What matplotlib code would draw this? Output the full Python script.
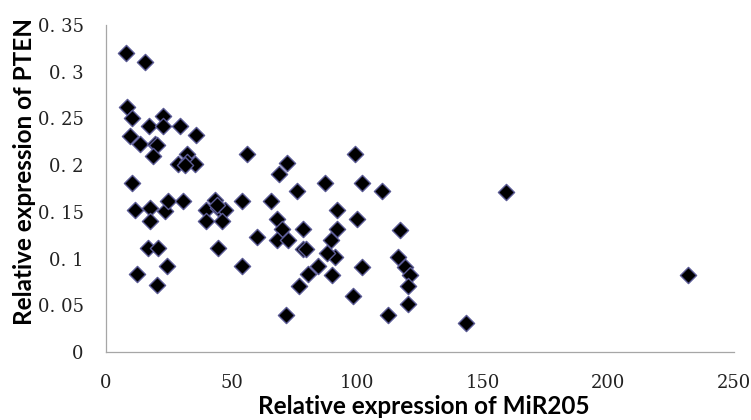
import matplotlib
matplotlib.use('Agg')
import matplotlib.pyplot as plt

# MiR205 vs PTEN
mir205 = [8, 15.5,
          8.2, 10.2, 22.8, 17.2, 22.8, 29.5, 35.8, 9.6, 13.5, 19.5, 20.5, 18.6,
          32.1, 28.8, 32.1, 35.4, 31.5,
          10.5,
          11.5, 17.5, 17.5, 23.5, 24.8, 30.8, 43.4, 40, 44.7, 47.4, 40, 46, 54, 44,
          16.8, 20.8, 44.7, 24.2, 12.2, 20.2, 54,
          56.3, 60,
          71.9, 69, 87.2, 76.2, 65.5, 91.8, 68.2, 70, 78.3, 91.8, 68, 72.6, 89.4,
          78.3, 79.8, 91.2, 87.8, 84.5, 80.5, 77, 89.8, 101.8, 98.5, 71.7, 99.8,
          99.1, 101.8, 109.7, 117, 116.4, 119, 121, 120.4, 120.4, 112.4,
          159.2, 231.5, 143.3]
pten = [0.32, 0.31,
        0.262, 0.25, 0.253, 0.242, 0.242, 0.242, 0.232, 0.231, 0.223, 0.223, 0.222, 0.21,
        0.212, 0.201, 0.203, 0.201, 0.2,
        0.181,
        0.152, 0.154, 0.14, 0.151, 0.162, 0.162, 0.163, 0.152, 0.154, 0.152, 0.14, 0.14, 0.162, 0.157,
        0.111, 0.111, 0.111, 0.092, 0.083, 0.072, 0.092,
        0.212, 0.123,
        0.202, 0.191, 0.181, 0.172, 0.162, 0.152, 0.142, 0.132, 0.132, 0.132, 0.12, 0.12, 0.12,
        0.11, 0.11, 0.102, 0.106, 0.092, 0.083, 0.071, 0.082, 0.091, 0.06, 0.04, 0.142,
        0.212, 0.181, 0.172, 0.131, 0.102, 0.091, 0.082, 0.071, 0.051, 0.04,
        0.171, 0.082, 0.031]

x_ticks = [0, 50, 100, 150, 200, 250]
y_ticks = [0, 0.05, 0.1, 0.15, 0.2, 0.25, 0.3, 0.35]
y_tick_labels = ['0', '0. 05', '0. 1', '0. 15', '0. 2', '0. 25', '0. 3', '0. 35']

fig = plt.figure(figsize=(7.51, 4.20), dpi=100)
ax = fig.add_axes([0.1411, 0.1619, 0.8363, 0.7786])

ax.scatter(mir205, pten, marker='D', s=68, c='black',
           edgecolors='#5b5b95', linewidths=1.0, zorder=3)

ax.set_xlim(0, 250)
ax.set_ylim(0, 0.35)
ax.set_xticks(x_ticks)
ax.set_xticklabels([str(v) for v in x_ticks])
ax.set_yticks(y_ticks)
ax.set_yticklabels(y_tick_labels)

for side in ['top', 'right']:
    ax.spines[side].set_visible(False)
for side in ['left', 'bottom']:
    ax.spines[side].set_color('#a6a6a6')
    ax.spines[side].set_linewidth(0.9)

ax.tick_params(axis='both', length=0, labelsize=13, colors='#222222')
ax.tick_params(axis='x', pad=16)
ax.tick_params(axis='y', pad=16)
for lab in ax.get_xticklabels() + ax.get_yticklabels():
    lab.set_family('DejaVu Serif')

ax.set_xlabel('Relative expression of MiR205', fontsize=17.5,
              fontweight='bold', family='Lato')
ax.set_ylabel('Relative expression of PTEN', fontsize=17.5,
              fontweight='bold', family='Lato')
ax.xaxis.set_label_coords(0.506, -0.132)
ax.yaxis.set_label_coords(-0.111, 0.553)

fig.savefig('out.png', dpi=100)
